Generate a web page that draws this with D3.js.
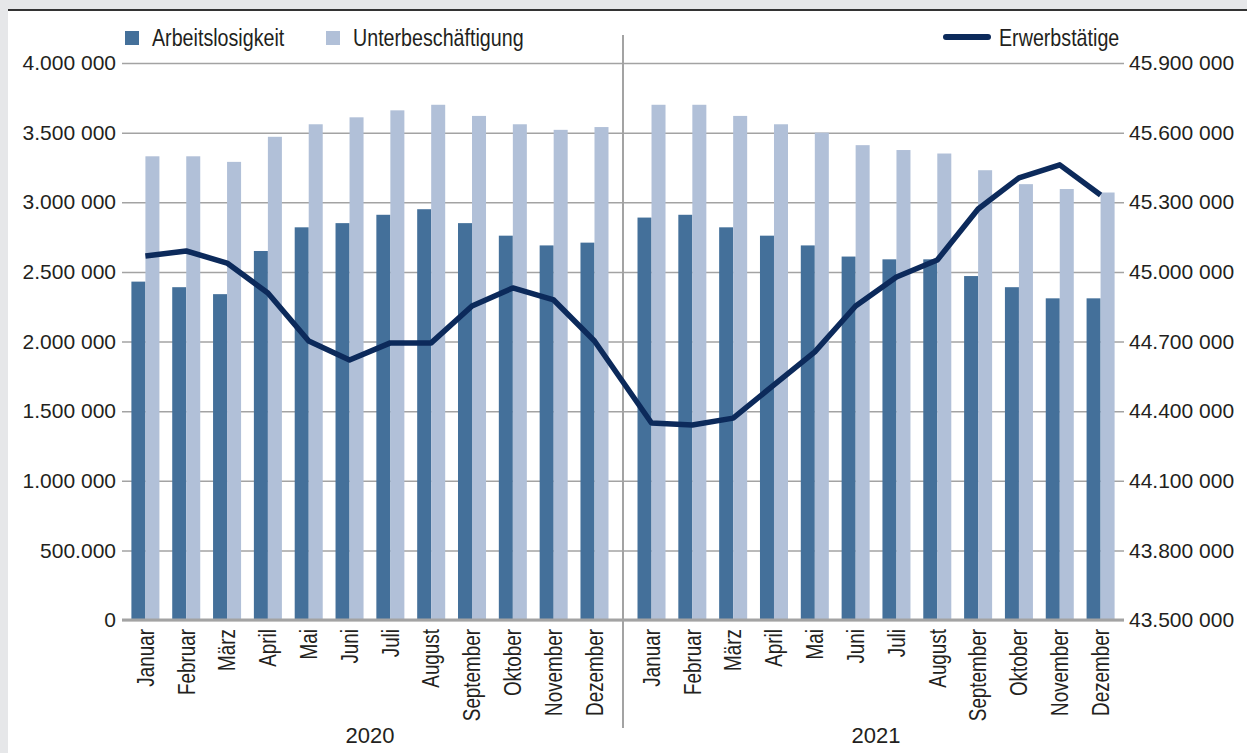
<!DOCTYPE html>
<html>
<head>
<meta charset="utf-8">
<script src="https://cdn.jsdelivr.net/npm/d3@7"></script>
<style>
  body { margin: 0; background: #e6e7e9; }
  svg { display: block; font-family: "Liberation Sans", Arial, sans-serif; }
</style>
</head>
<body>
<svg id="chart" width="1247" height="753"></svg>
<script>
const years = ['2020', '2021'];
const months = ['Januar', 'Februar', 'März', 'April', 'Mai', 'Juni', 'Juli',
  'August', 'September', 'Oktober', 'November', 'Dezember'];

// Jan 2020 .. Dez 2021
const arbeitslosigkeit = [
  2430000, 2390000, 2340000, 2650000, 2820000, 2850000, 2910000, 2950000, 2850000, 2760000, 2690000, 2710000,
  2890000, 2910000, 2820000, 2760000, 2690000, 2610000, 2590000, 2590000, 2470000, 2390000, 2310000, 2310000
];
const unterbeschaeftigung = [
  3330000, 3330000, 3290000, 3470000, 3560000, 3610000, 3660000, 3700000, 3620000, 3560000, 3520000, 3540000,
  3700000, 3700000, 3620000, 3560000, 3500000, 3410000, 3375000, 3350000, 3230000, 3130000, 3095000, 3070000
];
const erwerbstaetige = [
  45068000, 45090000, 45038000, 44909000, 44702000, 44620000, 44694000, 44694000, 44853000, 44931000, 44879000, 44702000,
  44349000, 44340000, 44370000, 44513000, 44655000, 44853000, 44978000, 45051000, 45271000, 45405000, 45461000, 45331000
];

const leftTicks = [0, 500000, 1000000, 1500000, 2000000, 2500000, 3000000, 3500000, 4000000];
const leftTickLabels = ['0', '500.000', '1.000 000', '1.500 000', '2.000 000', '2.500 000',
  '3.000 000', '3.500 000', '4.000 000'];
const rightTicks = [43500000, 43800000, 44100000, 44400000, 44700000, 45000000, 45300000, 45600000, 45900000];
const rightTickLabels = ['43.500 000', '43.800 000', '44.100 000', '44.400 000', '44.700 000',
  '45.000 000', '45.300 000', '45.600 000', '45.900 000'];

const colors = { alo: '#44709a', unter: '#b1c0d8', erw: '#0c2a5b', grid: '#a3a3a3', text: '#231f20' };
const narrow = 0.82; // condensed look for word labels

const svg = d3.select('#chart');

// panel
svg.append('rect').attr('x', 8).attr('y', 10).attr('width', 1239).attr('height', 743).attr('fill', '#fff');
svg.append('line').attr('x1', 8).attr('x2', 1247).attr('y1', 10).attr('y2', 10)
  .attr('stroke', '#333').attr('stroke-width', 2);

const x0 = d3.scaleBand().domain(years).range([125, 1121]).paddingInner(0.032);
const x1 = d3.scaleBand().domain(months).range([0, x0.bandwidth()]);
const x2 = d3.scaleBand().domain(['alo', 'unter']).range([0, x1.bandwidth()]).paddingOuter(0.457);

const yL = d3.scaleLinear().domain([0, 4000000]).range([620, 63]);
const yR = d3.scaleLinear().domain([43500000, 45900000]).range([620, 63]);

const rows = years.flatMap((y, yi) => months.map((m, mi) => {
  const i = yi * 12 + mi;
  return { year: y, month: m, alo: arbeitslosigkeit[i], unter: unterbeschaeftigung[i], erw: erwerbstaetige[i] };
}));
const cx = d => x0(d.year) + x1(d.month) + x1.bandwidth() / 2;

// left axis + grid
const gL = svg.append('g')
  .attr('transform', 'translate(122,0)')
  .call(d3.axisLeft(yL).tickValues(leftTicks).tickFormat((d, i) => leftTickLabels[i])
    .tickSize(-1002).tickPadding(6));
gL.select('.domain').remove();
gL.selectAll('.tick line').attr('stroke', colors.grid).attr('stroke-width', 1.5);
gL.selectAll('.tick text').attr('font-family', null).attr('font-size', 21).attr('fill', colors.text);

// right axis
const gR = svg.append('g')
  .attr('transform', 'translate(1124,0)')
  .call(d3.axisRight(yR).tickValues(rightTicks).tickFormat((d, i) => rightTickLabels[i])
    .tickSize(0).tickPadding(5));
gR.select('.domain').remove();
gR.selectAll('.tick text').attr('font-family', null).attr('font-size', 21).attr('fill', colors.text);

// bars
const groups = svg.append('g').selectAll('g')
  .data(rows)
  .join('g')
  .attr('transform', d => `translate(${x0(d.year) + x1(d.month)},0)`);

groups.selectAll('rect')
  .data(d => ['alo', 'unter'].map(k => ({ key: k, value: d[k] })))
  .join('rect')
  .attr('x', d => x2(d.key))
  .attr('width', x2.bandwidth())
  .attr('y', d => yL(d.value))
  .attr('height', d => yL(0) - yL(d.value))
  .attr('fill', d => colors[d.key]);

// baseline
svg.append('line')
  .attr('x1', 122).attr('x2', 1124)
  .attr('y1', yL(0)).attr('y2', yL(0))
  .attr('stroke', colors.grid).attr('stroke-width', 3);

// year divider
const divX = (x0('2020') + x0.bandwidth() + x0('2021')) / 2;
svg.append('line')
  .attr('x1', divX).attr('x2', divX).attr('y1', 35).attr('y2', 728)
  .attr('stroke', colors.grid).attr('stroke-width', 2);

// line
svg.append('path')
  .datum(rows)
  .attr('fill', 'none')
  .attr('stroke', colors.erw)
  .attr('stroke-width', 5.5)
  .attr('stroke-linejoin', 'round')
  .attr('d', d3.line().x(cx).y(d => yR(d.erw)));

// month labels
svg.append('g').selectAll('text')
  .data(rows)
  .join('text')
  .attr('transform', d => `translate(${cx(d)},629) rotate(-90) scale(${narrow},1)`)
  .attr('text-anchor', 'end')
  .attr('dy', '0.36em')
  .attr('font-size', 23)
  .attr('fill', colors.text)
  .text(d => d.month);

// year labels
svg.append('g').selectAll('text')
  .data(years)
  .join('text')
  .attr('x', d => x0(d) + x0.bandwidth() / 2)
  .attr('y', 743)
  .attr('text-anchor', 'middle')
  .attr('font-size', 22)
  .attr('fill', colors.text)
  .text(d => d);

// legend
const legendBars = [
  { key: 'alo', label: 'Arbeitslosigkeit', x: 125 },
  { key: 'unter', label: 'Unterbeschäftigung', x: 326 }
];
const lg = svg.append('g').selectAll('g').data(legendBars).join('g')
  .attr('transform', d => `translate(${d.x},31)`);
lg.append('rect').attr('width', 14).attr('height', 14).attr('fill', d => colors[d.key]);
lg.append('text').attr('transform', `translate(27,15) scale(${narrow},1)`).attr('font-size', 24)
  .attr('fill', colors.text).text(d => d.label);

const ll = svg.append('g').attr('transform', 'translate(946,37)');
ll.append('line').attr('x1', 0).attr('x2', 42)
  .attr('stroke', colors.erw).attr('stroke-width', 6).attr('stroke-linecap', 'round');
ll.append('text').attr('transform', `translate(53,9) scale(${narrow},1)`).attr('font-size', 24)
  .attr('fill', colors.text).text('Erwerbstätige');
</script>
</body>
</html>
